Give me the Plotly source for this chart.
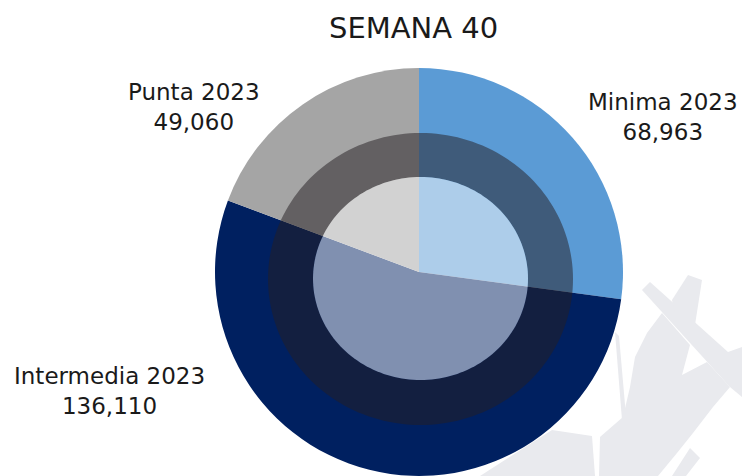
import numpy as np
import plotly.graph_objects as go

# ---- data ----
categories = ["Minima 2023", "Intermedia 2023", "Punta 2023"]
values = [68963, 136110, 49060]
title_text = "SEMANA 40"

W, H = 742, 476
colors = ["#5B9BD5", "#002060", "#A5A5A5"]

fig = go.Figure()
fig.add_trace(go.Pie(labels=categories, values=values, sort=False,
                     direction="clockwise", rotation=0,
                     marker=dict(colors=colors, line=dict(width=0)),
                     textinfo="none", hoverinfo="label+value",
                     domain=dict(x=[213 / W, 625 / W], y=[0, 408 / H]),
                     showlegend=False))


def pt(x, y):
    return f"{x / W:.5f},{1 - y / H:.5f}"


def path(points):
    return "M " + " L ".join(pt(x, y) for x, y in points) + " Z"


def ellipse(cx, cy, rx, ry, n=180):
    t = np.linspace(0, 2 * np.pi, n, endpoint=False)
    return [(cx + rx * np.cos(a), cy + ry * np.sin(a)) for a in t]


shapes = []

# faint watermark in the background
wm = "#E9EAEE"
polys = [
    # diagonal bar
    [(642, 290), (650, 282), (728, 352), (742, 347), (742, 397), (730, 387)],
    # right arm
    [(688, 275), (702, 280), (695, 325), (675, 315), (672, 300)],
    # main body
    [(623, 417), (630, 387), (635, 357), (647, 333), (662, 313), (690, 345),
     (682, 375), (707, 362), (730, 387), (713, 407), (693, 433), (677, 453),
     (658, 476), (599, 476), (600, 437)],
    # thin blade next to the pie
    [(615, 332), (619, 336), (626, 416), (622, 420)],
    # lower-left patch
    [(552, 430), (592, 436), (595, 476), (480, 476)],
    # lower-right bar
    [(690, 448), (700, 458), (686, 476), (672, 476)],
]
for p in polys:
    shapes.append(dict(type="path", xref="paper", yref="paper", path=path(p),
                       fillcolor=wm, line=dict(width=0), layer="below"))

# darker ring overlay (annulus) and lighter core overlay
ring = path(ellipse(420.5, 279, 152.5, 146)) + " " + path(ellipse(420.5, 278.5, 107.5, 101.5))
shapes.append(dict(type="path", xref="paper", yref="paper", path=ring,
                   fillrule="evenodd", fillcolor="rgba(37,32,36,0.515)",
                   line=dict(width=0), layer="above"))
shapes.append(dict(type="path", xref="paper", yref="paper",
                   path=path(ellipse(420.5, 278.5, 107.5, 101.5)),
                   fillcolor="rgba(255,255,255,0.5)",
                   line=dict(width=0), layer="above"))

font = "DejaVu Sans"
label_pos = [(663, 117), (109, 391), (194, 107)]
annotations = []
for lab, val, (x, y) in zip(categories, values, label_pos):
    annotations.append(dict(x=x / W, y=1 - y / H, xref="paper", yref="paper",
                            text=f"{lab}<br>{val:,}", showarrow=False,
                            xanchor="center", yanchor="middle", align="center",
                            font=dict(family=font, size=23, color="#1a1a1a")))
annotations.append(dict(x=414 / W, y=1 - 28 / H, xref="paper", yref="paper",
                        text=title_text, showarrow=False, xanchor="center",
                        yanchor="middle",
                        font=dict(family=font, size=29, color="#1a1a1a")))

fig.update_layout(width=W, height=H, margin=dict(l=0, r=0, t=0, b=0),
                  paper_bgcolor="white", plot_bgcolor="white",
                  shapes=shapes, annotations=annotations)
fig.write_html("out.html", config={"displayModeBar": False},
               post_script="document.body.style.margin='0';"
                           "document.body.style.overflow='hidden';")
